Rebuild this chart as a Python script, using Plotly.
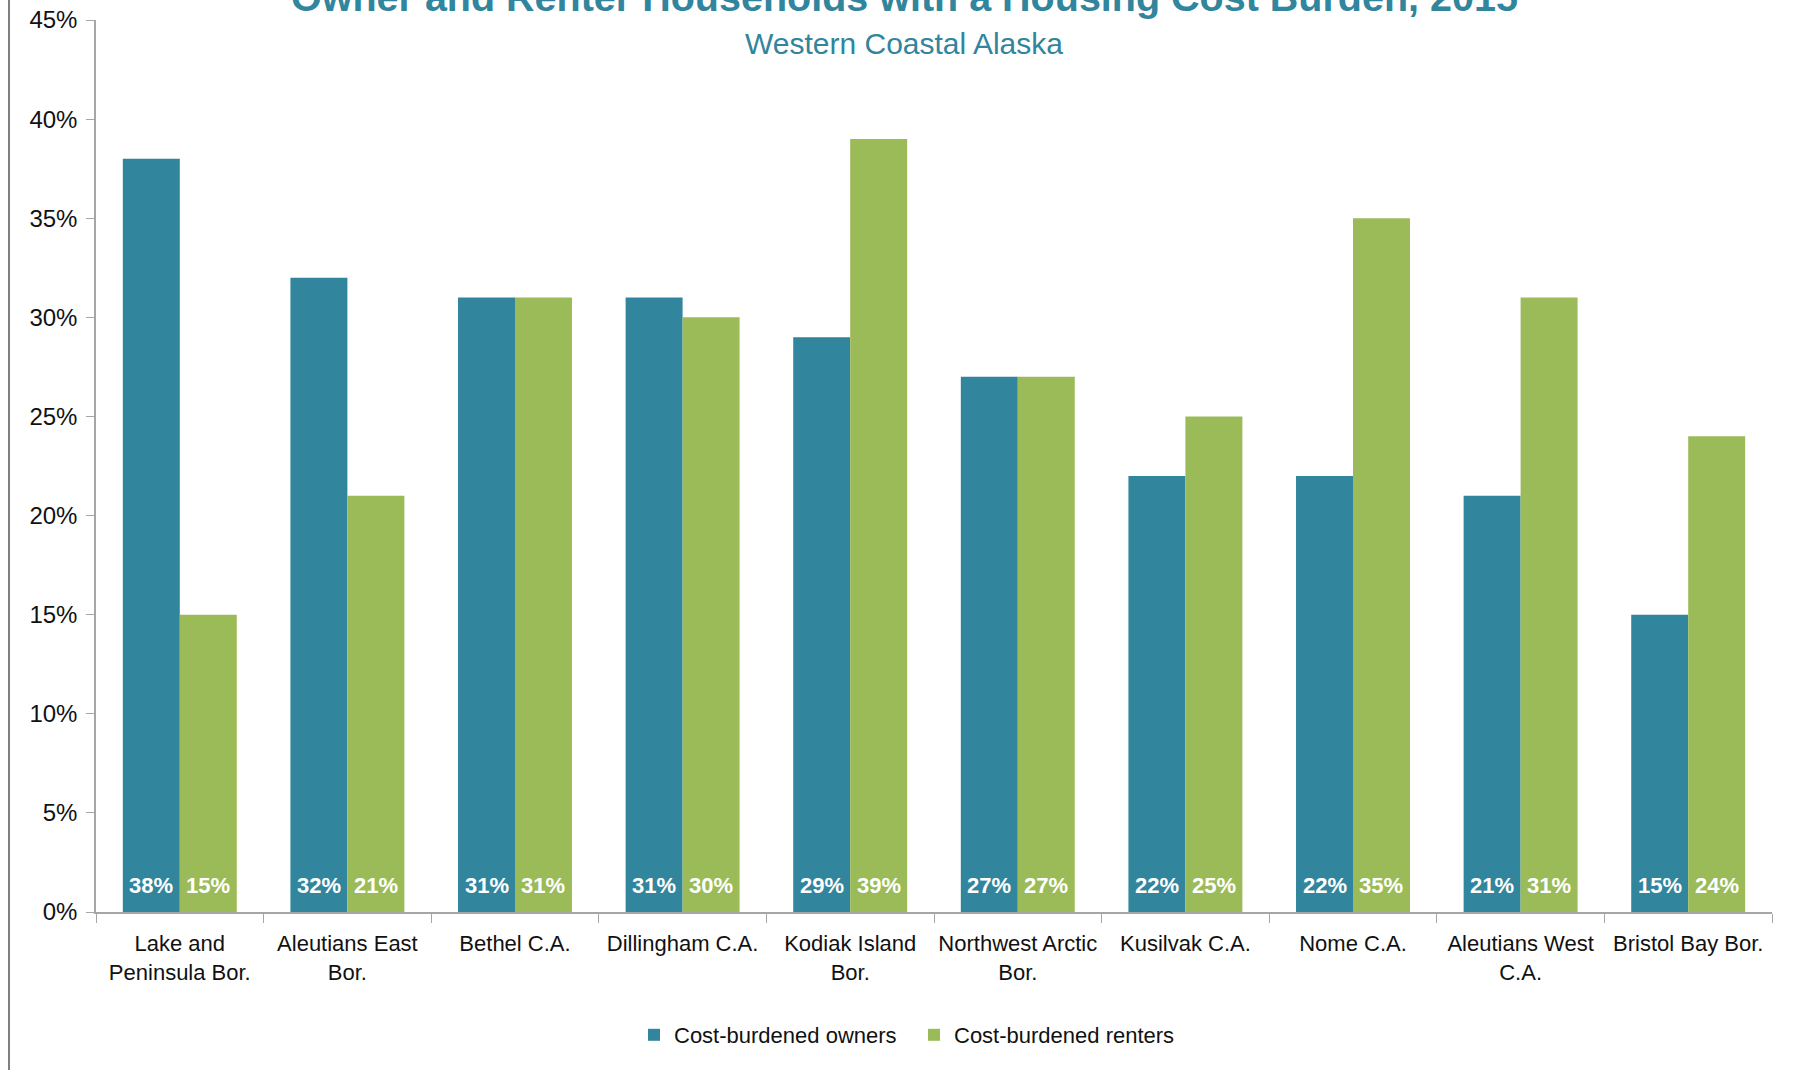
import plotly.graph_objects as go

# Western Coastal Alaska, share of households with a housing cost burden
areas = [
    "Lake and<br>Peninsula Bor.",
    "Aleutians East<br>Bor.",
    "Bethel C.A.",
    "Dillingham C.A.",
    "Kodiak Island<br>Bor.",
    "Northwest Arctic<br>Bor.",
    "Kusilvak C.A.",
    "Nome C.A.",
    "Aleutians West<br>C.A.",
    "Bristol Bay Bor.",
]
owners = [38, 32, 31, 31, 29, 27, 22, 22, 21, 15]
renters = [15, 21, 31, 30, 39, 27, 25, 35, 31, 24]
y_ticks = [0, 5, 10, 15, 20, 25, 30, 35, 40, 45]
y_tick_text = [f"{t}%" for t in y_ticks]

TEAL = "#31859C"
GREEN = "#9BBB59"
FONT = "Liberation Sans, Arial, sans-serif"

W, H = 1798, 1070
margin = dict(l=96, r=26, t=20, b=158)
plot_h = H - margin["t"] - margin["b"]
plot_w = W - margin["l"] - margin["r"]
bargap = 0.32
bar_px = plot_w / len(areas) * (1 - bargap) / 2


def px_to_paper_y(py):
    return (H - margin["b"] - py) / plot_h


def px_to_paper_x(px):
    return (px - margin["l"]) / plot_w


fig = go.Figure()
fig.add_trace(go.Bar(name="Cost-burdened owners", x=areas, y=owners,
                     marker=dict(color=TEAL, line=dict(width=0))))
fig.add_trace(go.Bar(name="Cost-burdened renters", x=areas, y=renters,
                     marker=dict(color=GREEN, line=dict(width=0))))

# value labels sitting at the foot of each bar
annotations = []
for series, shift in ((owners, -bar_px / 2), (renters, bar_px / 2)):
    for cat, v in zip(areas, series):
        annotations.append(dict(
            x=cat, y=0, xref="x", yref="y", xshift=shift, yshift=27,
            text=f"{v}%", showarrow=False, yanchor="middle",
            font=dict(family=FONT, size=22, color="white", weight="bold"),
        ))

# title is cut by the top edge in the original too
annotations.append(dict(
    x=0.5, xref="paper", y=px_to_paper_y(21), yref="paper", xanchor="center",
    xshift=-30, yanchor="bottom", showarrow=False,
    text="<b>Owner and Renter Households with a Housing Cost Burden, 2015</b>",
    font=dict(family=FONT, size=39.5, color=TEAL),
))
annotations.append(dict(
    x=0.5, xref="paper", y=px_to_paper_y(43), yref="paper", xanchor="center",
    xshift=-30, yanchor="middle", showarrow=False,
    text="Western Coastal Alaska",
    font=dict(family=FONT, size=30, color=TEAL),
))

fig.update_layout(
    width=W, height=H,
    margin=dict(margin, autoexpand=False),
    barmode="group", bargap=bargap, bargroupgap=0,
    plot_bgcolor="white", paper_bgcolor="white",
    font=dict(family=FONT, size=22, color="#111111"),
    annotations=annotations,
    shapes=[dict(type="line", xref="paper", yref="paper",
                 x0=px_to_paper_x(9), x1=px_to_paper_x(9), y0=-0.3, y1=1.1,
                 line=dict(color="#7f7f7f", width=2))],
    legend=dict(orientation="h", x=px_to_paper_x(634), xanchor="left",
                y=px_to_paper_y(1035), yanchor="middle",
                font=dict(size=22), itemwidth=30, entrywidth=235,
                traceorder="normal"),
    showlegend=True,
)
fig.update_xaxes(showline=True, linecolor="#a6a6a6", linewidth=1.5,
                 ticks="outside", tickson="boundaries", ticklen=9,
                 tickcolor="#a6a6a6", showgrid=False, tickangle=0,
                 ticklabelstandoff=11, automargin=False,
                 tickfont=dict(size=22))
fig.update_yaxes(range=[0, 45], tickvals=y_ticks, ticktext=y_tick_text,
                 showline=True, linecolor="#a6a6a6", linewidth=1.5,
                 ticks="outside", ticklen=8, tickcolor="#a6a6a6",
                 showgrid=False, zeroline=False, automargin=False,
                 ticklabelstandoff=4, ticklabeloverflow="allow",
                 tickfont=dict(size=24))

# drop the default body margin so the figure fills the window exactly
fig.write_html("out.html", config={"displayModeBar": False},
               post_script="document.body.style.margin = '0';")
